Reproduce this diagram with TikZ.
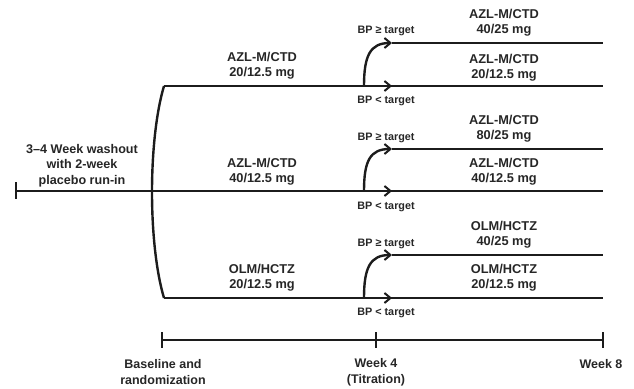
\documentclass[tikz,border=0pt]{standalone}
\usepackage{fontspec}
\setmainfont{Liberation Sans}
\usetikzlibrary{arrows.meta,calc}
\definecolor{ink}{HTML}{1C1C1C}
\definecolor{txt}{HTML}{262626}
\begin{document}
\begin{tikzpicture}[x=1pt,y=-1pt,
  armline/.style={line width=2.4pt, draw=ink},
  axisline/.style={line width=2.2pt, draw=ink},
  brk/.style={-{Straight Barb[length=6pt,width=10pt,line width=2pt]}},
  druglbl/.style={font=\bfseries\fontsize{12.8}{15}\selectfont, align=center, text=txt, inner sep=0pt},
  washlbl/.style={font=\bfseries\fontsize{12.6}{15.5}\selectfont, align=center, text=txt, inner sep=0pt},
  bplbl/.style={font=\bfseries\fontsize{10.8}{12}\selectfont, text=txt, inner sep=0pt},
  timelbl/.style={font=\bfseries\fontsize{12.5}{16}\selectfont, align=center, text=txt, inner sep=0pt}]
\useasboundingbox (0,0) rectangle (634,388);
% coordinates
\coordinate (start) at (16,191);
\coordinate (top0) at (164,86);
\coordinate (bot0) at (164,298);
\coordinate (topE) at (603,86);
\coordinate (midE) at (603,191);
\coordinate (botE) at (603,298);
\coordinate (b1) at (364,86);
\coordinate (b2) at (364,191);
\coordinate (b3) at (364,298);
\coordinate (u1) at (392,43);
\coordinate (u2) at (392,149);
\coordinate (u3) at (392,255);
\coordinate (u1E) at (603,43);
\coordinate (u2E) at (603,149);
\coordinate (u3E) at (603,255);
\coordinate (a1) at (392,86);
\coordinate (a2) at (392,191);
\coordinate (a3) at (392,298);
% washout line with tick
\draw[armline] (16,182) -- (16,199);
\draw[armline] (start) -- (midE);
% bracket
\draw[armline] (top0) .. controls (148,140) and (148,244) .. (bot0);
\draw[armline] (top0) -- (topE);
\draw[armline] (bot0) -- (botE);
% branch arrows
\foreach \i in {1,2,3}{
  \draw[armline,brk] (b\i) .. controls ($(b\i)+(0,-30)$) and ($(u\i)+(-22,0)$) .. (u\i);
  \draw[armline] (u\i) -- (u\i E);
  \draw[armline,brk] (b\i) -- (a\i);
}
% labels
\node[washlbl] (wash) at (82,165.5) {3–4 Week washout\\with 2-week\\placebo run-in};
\node[druglbl] (d1) at (262,66) {AZL-M/CTD\\20/12.5 mg};
\node[druglbl] (d2) at (262,172) {AZL-M/CTD\\40/12.5 mg};
\node[druglbl] (d3) at (262,278) {OLM/HCTZ\\20/12.5 mg};
\node[druglbl] (r1) at (504,23) {AZL-M/CTD\\40/25 mg};
\node[druglbl] (r2) at (504,67.5) {AZL-M/CTD\\20/12.5 mg};
\node[druglbl] (r3) at (504,129) {AZL-M/CTD\\80/25 mg};
\node[druglbl] (r4) at (504,172) {AZL-M/CTD\\40/12.5 mg};
\node[druglbl] (r5) at (504,235) {OLM/HCTZ\\40/25 mg};
\node[druglbl] (r6) at (504,278) {OLM/HCTZ\\20/12.5 mg};
\node[bplbl] (g1) at (386,31) {BP ≥ target};
\node[bplbl] (g2) at (386,138) {BP ≥ target};
\node[bplbl] (g3) at (386,244) {BP ≥ target};
\node[bplbl] (l1) at (386,101) {BP < target};
\node[bplbl] (l2) at (386,207) {BP < target};
\node[bplbl] (l3) at (386,313) {BP < target};
% timeline
\coordinate (t0) at (162,340);
\coordinate (t4) at (376,340);
\coordinate (t8) at (603,340);
\draw[axisline] (t0) -- (t8);
\foreach \t in {t0,t4,t8}{
  \draw[axisline] ($(\t)+(0,-8)$) -- ($(\t)+(0,8)$);
}
\node[timelbl] (base) at (163,372) {Baseline and\\randomization};
\node[timelbl] (wk4) at (376,372) {Week 4\\(Titration)};
\node[timelbl] (wk8) at (601,364) {Week 8};
\end{tikzpicture}
\end{document}
